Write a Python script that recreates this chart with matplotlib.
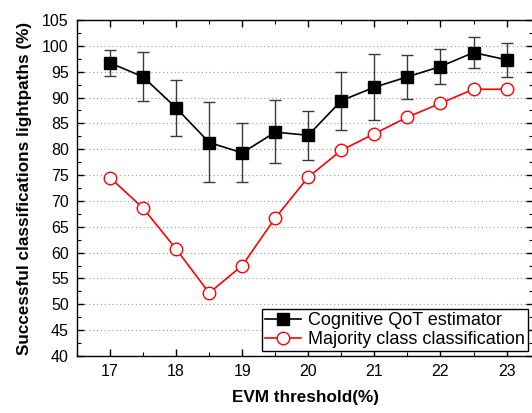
"""EVM threshold vs. successful classification of lightpaths."""

import matplotlib
matplotlib.use("Agg")
import matplotlib.pyplot as plt
from matplotlib.ticker import MultipleLocator

plt.rcParams["font.family"] = ["Liberation Sans", "DejaVu Sans"]

evm_threshold = [17, 17.5, 18, 18.5, 19, 19.5, 20, 20.5, 21, 21.5, 22, 22.5, 23]
cognitive_qot = [96.7, 94.0, 88.0, 81.3, 79.3, 83.3, 82.7, 89.4, 92.0, 94.0, 96.0, 98.7, 97.3]
cognitive_hi = [99.2, 98.8, 93.4, 89.1, 85.0, 89.5, 87.3, 95.0, 98.4, 98.2, 99.3, 101.7, 100.6]
cognitive_lo = [94.2, 89.3, 82.6, 73.6, 73.6, 77.3, 78.0, 83.7, 85.7, 89.8, 92.7, 95.7, 94.0]
majority_class = [74.5, 68.6, 60.7, 52.2, 57.5, 66.7, 74.6, 79.8, 83.0, 86.2, 88.9, 91.6, 91.6]

err_low = [m - lo for m, lo in zip(cognitive_qot, cognitive_lo)]
err_high = [hi - m for m, hi in zip(cognitive_qot, cognitive_hi)]

fig = plt.figure(figsize=(5.32, 4.13), dpi=100)
ax = fig.add_axes([77 / 532, 1 - 356 / 413, (533 - 77) / 532, (356 - 20) / 413])

ax.errorbar(evm_threshold, cognitive_qot, yerr=[err_low, err_high],
            fmt="none", ecolor="#3a3a3a", elinewidth=1.0, capsize=4, capthick=1.0,
            zorder=2)
ax.plot(evm_threshold, cognitive_qot, color="black", lw=1.2, marker="s",
        markersize=8, label="Cognitive QoT estimator", zorder=3)
ax.plot(evm_threshold, majority_class, color="red", lw=1.2, marker="o",
        markersize=9, markerfacecolor="white", markeredgecolor="red",
        markeredgewidth=1.0, label="Majority class classification", zorder=3)

ax.set_xlim(16.5, 23.4)
ax.set_ylim(40, 105)
ax.xaxis.set_major_locator(MultipleLocator(1))
ax.xaxis.set_minor_locator(MultipleLocator(0.5))
ax.yaxis.set_major_locator(MultipleLocator(5))
ax.yaxis.set_minor_locator(MultipleLocator(2.5))
ax.tick_params(which="both", direction="in", top=True, right=True,
               labelsize=11.5, pad=6)
ax.tick_params(which="major", length=5, width=1)
ax.tick_params(which="minor", length=3, width=0.8)

ax.grid(axis="y", which="major", linestyle=(0, (1, 2.5)), color="#999999", lw=0.8)
for spine in ax.spines.values():
    spine.set_linewidth(1.0)

ax.set_xlabel("EVM threshold(%)", fontsize=12.3, fontweight="bold", labelpad=8)
ax.set_ylabel("Successful classifications lightpaths (%)", fontsize=12.3,
              fontweight="bold", labelpad=7)

leg = ax.legend(loc="lower right", fontsize=13, frameon=True, fancybox=False,
                edgecolor="black", framealpha=1, borderpad=0.15, labelspacing=0.1,
                handlelength=2.0, handletextpad=0.4, borderaxespad=0.3)
leg.get_frame().set_linewidth(1.0)

fig.savefig("out.png", dpi=100)
